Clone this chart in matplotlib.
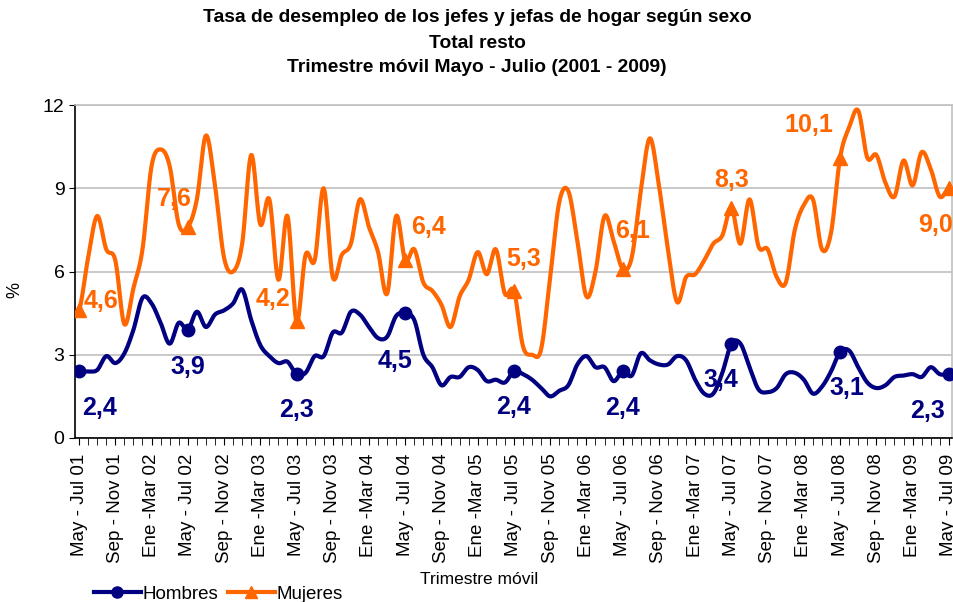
import matplotlib
matplotlib.use("Agg")
import matplotlib.pyplot as plt
import numpy as np

plt.rcParams['font.family'] = ['Liberation Sans', 'DejaVu Sans']

# Trimestre movil, monthly from May-Jul 2001 to May-Jul 2009 (97 points)
mujeres = [4.6, 6.5, 8.0, 6.8, 6.4, 4.1, 5.4, 6.8, 9.8, 10.4, 9.8, 7.7,
           7.6, 8.6, 10.9, 9.1, 6.5, 6.0, 7.0, 10.2, 7.7, 8.6, 5.7, 8.0,
           4.2, 6.6, 6.4, 9.0, 5.8, 6.6, 7.0, 8.6, 7.6, 6.7, 5.2, 8.0,
           6.4, 6.8, 5.6, 5.3, 4.8, 4.0, 5.1, 5.7, 6.7, 5.9, 6.8, 5.2,
           5.3, 3.3, 3.0, 3.2, 5.8, 8.5, 8.9, 7.1, 5.1, 6.0, 8.0, 7.1,
           6.1, 6.5, 8.9, 10.8, 9.1, 6.8, 4.9, 5.8, 5.9, 6.4, 7.0, 7.3,
           8.3, 7.0, 8.6, 6.9, 6.8, 5.8, 5.6, 7.5, 8.4, 8.6, 6.8, 7.4,
           10.1, 11.2, 11.8, 10.1, 10.2, 9.2, 8.7, 10.0, 9.1, 10.3, 9.7, 8.7, 9.0]

hombres = [2.4, 2.4, 2.45, 2.95, 2.7, 3.05, 3.9, 5.05, 4.85, 4.15, 3.4, 4.15,
           3.9, 4.55, 4.0, 4.45, 4.6, 4.85, 5.35, 4.25, 3.35, 2.95, 2.7, 2.75,
           2.3, 2.35, 2.95, 2.95, 3.8, 3.8, 4.55, 4.45, 4.0, 3.6, 3.65, 4.4,
           4.5, 4.25, 3.0, 2.55, 1.9, 2.2, 2.2, 2.55, 2.45, 2.05, 2.1, 2.0,
           2.4, 2.3, 2.1, 1.8, 1.5, 1.7, 1.9, 2.65, 2.95, 2.55, 2.55, 2.05,
           2.4, 2.25, 3.05, 2.8, 2.65, 2.65, 2.95, 2.8, 2.1, 1.6, 1.6, 2.35,
           3.4, 3.4, 2.55, 1.75, 1.65, 1.8, 2.3, 2.35, 2.1, 1.6, 1.85, 2.4,
           3.1, 3.15, 2.55, 2.0, 1.8, 1.9, 2.2, 2.25, 2.3, 2.2, 2.55, 2.3, 2.3]

tick_labels = ["May - Jul 01", "Sep - Nov 01", "Ene -Mar 02", "May - Jul 02",
               "Sep - Nov 02", "Ene -Mar 03", "May - Jul 03", "Sep - Nov 03",
               "Ene -Mar 04", "May - Jul 04", "Sep - Nov 04", "Ene -Mar 05",
               "May - Jul 05", "Sep - Nov 05", "Ene -Mar 06", "May - Jul 06",
               "Sep - Nov 06", "Ene -Mar 07", "May - Jul 07", "Sep - Nov 07",
               "Ene -Mar 08", "May - Jul 08", "Sep - Nov 08", "Ene -Mar 09",
               "May - Jul 09"]

# May-Jul points carry a marker and a data label
marked = [0, 12, 24, 36, 48, 60, 72, 84, 96]
hom_off = [(20, -37), (0, -37), (0, -36), (-10, -48), (0, -36),
           (0, -37), (-11, -36), (7, -36), (-21, -37)]
muj_off = [(22, 9), (-13, 28), (-24, 22), (23, 33), (10, 32),
           (10, 38), (0, 28), (-31, 33), (-13, -37)]

NAVY = "#000080"
ORANGE = "#FF6600"


def smooth(y, n=16):
    # catmull-rom, like excel's smoothed line
    y = np.asarray(y, float)
    p = np.concatenate([[y[0]], y, [y[-1]]])
    xs, ys = [], []
    t = np.linspace(0, 1, n, endpoint=False)
    for i in range(len(y) - 1):
        p0, p1, p2, p3 = p[i], p[i + 1], p[i + 2], p[i + 3]
        yy = 0.5 * ((2 * p1) + (-p0 + p2) * t + (2 * p0 - 5 * p1 + 4 * p2 - p3) * t ** 2
                    + (-p0 + 3 * p1 - 3 * p2 + p3) * t ** 3)
        xs.extend(i + t)
        ys.extend(yy)
    xs.append(len(y) - 1)
    ys.append(y[-1])
    return np.array(xs), np.array(ys)


fig = plt.figure(figsize=(9.54, 6.02), dpi=100)
ax = fig.add_axes([75 / 954, 1 - 438 / 602, (952 - 75) / 954, (438 - 105) / 602])

hx, hy = smooth(hombres)
mx, my = smooth(mujeres)
ax.plot(hx, hy, color=NAVY, lw=3, solid_capstyle='round', zorder=3)
ax.plot(mx, my, color=ORANGE, lw=3, solid_capstyle='round', zorder=3)
ax.plot(marked, [hombres[i] for i in marked], 'o', color=NAVY, ms=9, zorder=4)
ax.plot(marked, [mujeres[i] for i in marked], '^', color=ORANGE, ms=10, zorder=4)

for i, (dx, dy) in zip(marked, hom_off):
    ax.annotate(f"{hombres[i]:.1f}".replace('.', ','), (i, hombres[i]),
                xytext=(dx, dy), textcoords='offset pixels', ha='center', va='center',
                fontsize=18, fontweight='bold', color=NAVY, zorder=5)
for i, (dx, dy) in zip(marked, muj_off):
    ax.annotate(f"{mujeres[i]:.1f}".replace('.', ','), (i, mujeres[i]),
                xytext=(dx, dy), textcoords='offset pixels', ha='center', va='center',
                fontsize=18, fontweight='bold', color=ORANGE, zorder=5)

ax.set_xlim(-0.45, 96.35)
ax.set_ylim(0, 12)
ax.set_yticks([0, 3, 6, 9, 12])
ax.tick_params(axis='y', labelsize=14, length=4, direction='out')
ax.set_xticks(range(0, 97, 4))
ax.set_xticklabels(tick_labels, rotation=90, fontsize=13.5)
ax.set_xticks(range(97), minor=True)
ax.tick_params(axis='x', which='both', length=5, direction='out', pad=6)
ax.grid(axis='y', color='#c0c0c0', lw=1.2)
ax.set_axisbelow(True)
for s in ['top', 'right']:
    ax.spines[s].set_color('#c0c0c0')
    ax.spines[s].set_linewidth(1.2)
ax.spines['left'].set_linewidth(1.2)
ax.spines['bottom'].set_linewidth(1.2)

fig.text(15 / 954, 1 - 290 / 602, "%", rotation=90, fontsize=13, ha='center', va='center')
fig.text(479 / 954, 1 - 580 / 602, "Trimestre móvil", fontsize=12.5, ha='center', va='center')

fig.text(0.5, 1 - 18 / 602, "Tasa de desempleo de los jefes y jefas de hogar según sexo",
         fontsize=13.9, fontweight='bold', ha='center', va='center')
fig.text(0.5, 1 - 43 / 602, "Total resto", fontsize=13.9, fontweight='bold', ha='center', va='center')
fig.text(0.5, 1 - 68 / 602, "Trimestre móvil Mayo - Julio (2001 - 2009)",
         fontsize=13.9, fontweight='bold', ha='center', va='center')

h1, = ax.plot([], [], '-o', color=NAVY, lw=3, ms=8)
h2, = ax.plot([], [], '-^', color=ORANGE, lw=3, ms=9)
fig.legend([h1, h2], ["Hombres", "Mujeres"], loc='center left',
           bbox_to_anchor=(94 / 954, 1 - 594 / 602), ncol=2, frameon=False,
           fontsize=13.5, handlelength=2.5, handletextpad=0.1, columnspacing=0.5,
           borderpad=0, borderaxespad=0)

fig.savefig("out.png", dpi=100)
